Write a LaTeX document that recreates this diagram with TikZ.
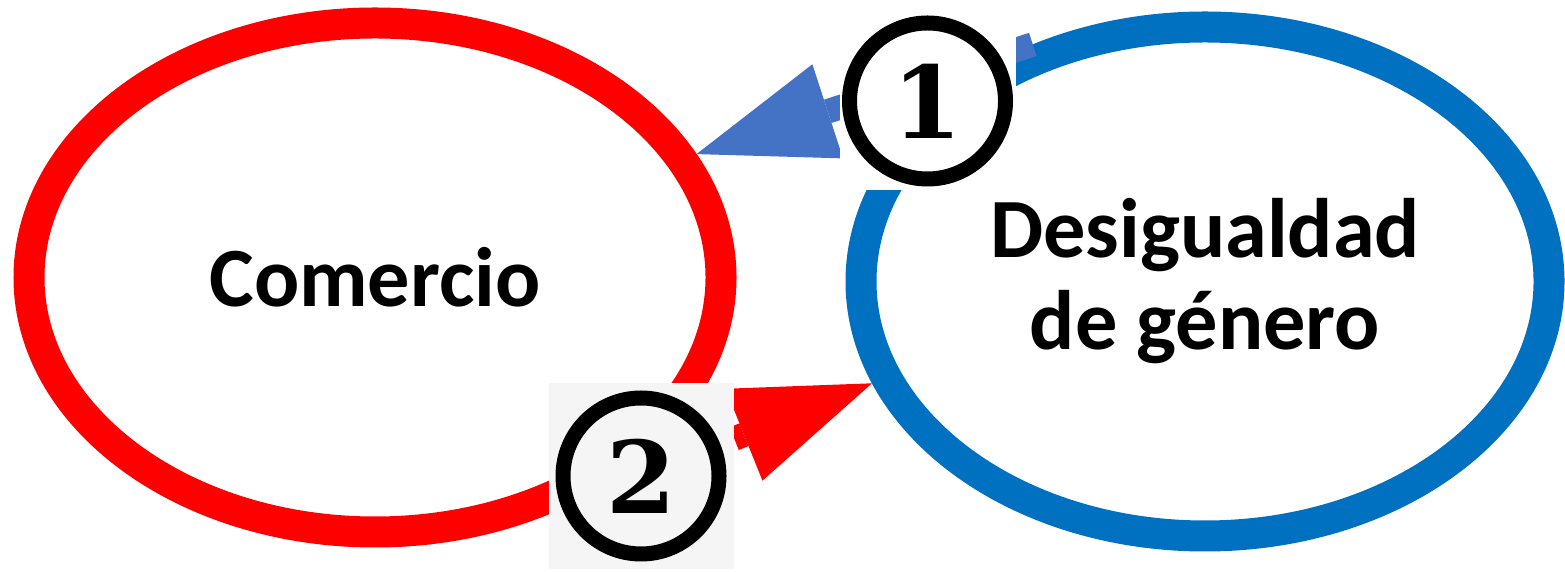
\documentclass[tikz,border=0pt]{standalone}
\usepackage{fontspec}
\setmainfont{Carlito}
\newfontfamily\numfont{DejaVu Serif}
\usepackage{xcolor}
\usetikzlibrary{shapes,arrows.meta,positioning,backgrounds}

\definecolor{ringred}{HTML}{FF0000}
\definecolor{ringblue}{HTML}{0070C0}
\definecolor{arrowblue}{HTML}{4472C4}
\definecolor{boxgray}{HTML}{F5F5F5}

\tikzset{
    ring/.style={draw,ellipse,line width=0.31cm,minimum width=6.92cm,minimum height=5.09cm,
        align=center,font=\bfseries\fontsize{24}{26.2}\selectfont},
    numbox/.style={rectangle,inner sep=0pt,font=\numfont\bfseries\fontsize{28.5}{30}\selectfont,
        path picture={\draw[line width=0.15cm] (path picture bounding box.center) circle (0.78cm);}},
    fat/.style={line width=0.245cm,-{Triangle[length=1.38cm,width=0.99cm,line width=0pt]}}
}

\begin{document}
\begin{tikzpicture}
    \useasboundingbox (0,0) rectangle (15.65,5.72);

    % circled numbers
    \node[numbox,fill=white,minimum width=1.76cm,minimum height=1.78cm] (num1) at (9.275,4.71) {1};
    \node[numbox,fill=boxgray,minimum width=1.85cm,minimum height=1.86cm] (num2) at (6.41,0.96) {2};

    \begin{scope}[on background layer]
        % the two loops
        \node[ring,draw=ringred] (comercio) at (3.75,2.945) {Comercio};
        \node[ring,draw=ringblue,minimum width=6.88cm] (desig) at (12.05,2.905) {Desigualdad\\de género};

        % arrows between them
        \draw[fat,arrowblue] (desig.126) -- (comercio.21.5);
        \draw[fat,ringred] (num2) -- (desig.197);
    \end{scope}
\end{tikzpicture}
\end{document}
